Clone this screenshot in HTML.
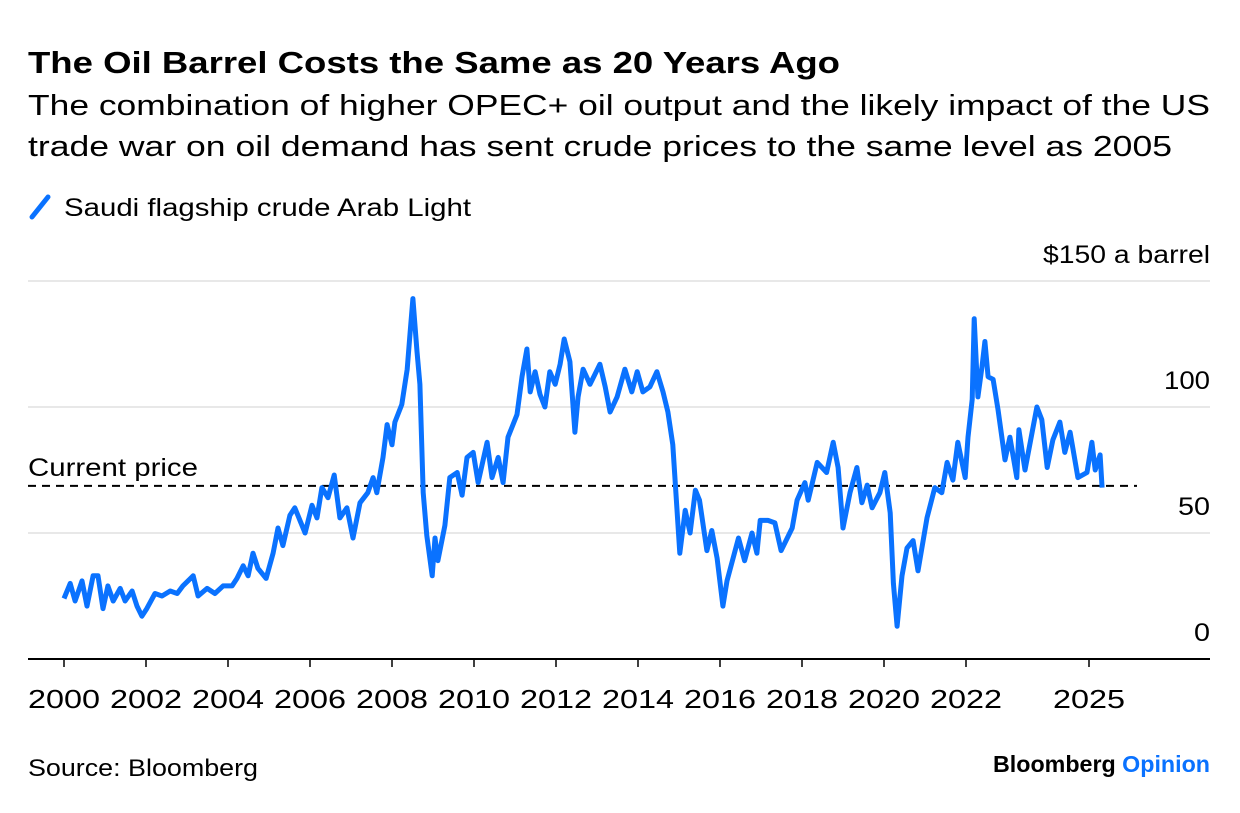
<!DOCTYPE html>
<html><head><meta charset="utf-8">
<style>
html,body{margin:0;padding:0;background:#fff;}
body{width:1240px;height:808px;overflow:hidden;font-family:"Liberation Sans",sans-serif;}
svg text{font-family:"Liberation Sans",sans-serif;}
</style></head>
<body>
<svg id="chart" width="1240" height="808" viewBox="0 0 1240 808">
  <text x="28" y="73" font-size="31" font-weight="bold" fill="#000" textLength="812" lengthAdjust="spacingAndGlyphs">The Oil Barrel Costs the Same as 20 Years Ago</text>
  <text x="28" y="115" font-size="29" fill="#000" textLength="1182" lengthAdjust="spacingAndGlyphs">The combination of higher OPEC+ oil output and the likely impact of the US</text>
  <text x="28" y="156" font-size="29" fill="#000" textLength="1144" lengthAdjust="spacingAndGlyphs">trade war on oil demand has sent crude prices to the same level as 2005</text>
  <g>
    <line x1="32" y1="217" x2="48" y2="197" stroke="#0a72ff" stroke-width="5" stroke-linecap="round"/>
    <text x="64" y="216" font-size="25" fill="#000" textLength="407" lengthAdjust="spacingAndGlyphs">Saudi flagship crude Arab Light</text>
  </g>
  <g id="grid"></g>
  <g id="xaxis"></g>
  <text x="28" y="476" font-size="25" fill="#000" textLength="170" lengthAdjust="spacingAndGlyphs">Current price</text>
  <g id="series"></g>
  <text x="28" y="776" font-size="24" fill="#000" textLength="230" lengthAdjust="spacingAndGlyphs">Source: Bloomberg</text>
  <text x="1210" y="772" font-size="23" font-weight="bold" text-anchor="end" fill="#000" textLength="217" lengthAdjust="spacingAndGlyphs">Bloomberg <tspan fill="#0a72ff">Opinion</tspan></text>
</svg>
<script>
const yTicks = [0, 50, 100, 150];
const yTickLabels = ["0", "50", "100", "$150 a barrel"];
const yTickWidths = [16, 32, 46, 167];
const xTicks = [2000,2002,2004,2006,2008,2010,2012,2014,2016,2018,2020,2022,2025];
const currentPrice = [68.7];
const dates = [
2000.0,2000.15,2000.27,2000.44,2000.56,2000.71,2000.83,2000.95,2001.07,2001.2,
2001.37,2001.49,2001.66,2001.78,2001.9,2002.02,2002.22,2002.39,2002.59,2002.76,
2002.9,2003.15,2003.27,2003.49,2003.68,2003.88,2004.1,2004.22,2004.37,2004.49,
2004.61,2004.73,2004.93,2005.1,2005.22,2005.34,2005.51,2005.63,2005.88,2006.05,
2006.17,2006.29,2006.44,2006.59,2006.73,2006.9,2007.05,2007.22,2007.41,2007.54,
2007.63,2007.78,2007.88,2008.0,2008.07,2008.24,2008.37,2008.44,2008.51,2008.61,
2008.68,2008.76,2008.85,2008.98,2009.05,2009.12,2009.29,2009.41,2009.59,2009.71,
2009.83,2009.98,2010.1,2010.32,2010.44,2010.59,2010.71,2010.83,2011.05,2011.17,
2011.29,2011.37,2011.49,2011.61,2011.73,2011.85,2011.98,2012.1,2012.2,2012.34,
2012.46,2012.54,2012.66,2012.83,2012.95,2013.07,2013.2,2013.32,2013.49,2013.68,
2013.85,2013.98,2014.12,2014.29,2014.46,2014.61,2014.73,2014.85,2015.02,2015.15,
2015.27,2015.4,2015.5,2015.68,2015.8,2015.93,2016.07,2016.17,2016.45,2016.6,
2016.78,2016.9,2016.98,2017.17,2017.34,2017.49,2017.76,2017.88,2018.07,2018.15,
2018.37,2018.6,2018.76,2018.88,2019.0,2019.17,2019.34,2019.46,2019.59,2019.71,
2019.9,2020.02,2020.15,2020.23,2020.32,2020.44,2020.56,2020.71,2020.83,2021.05,
2021.24,2021.41,2021.54,2021.68,2021.8,2021.98,2022.05,2022.15,2022.2,2022.29,
2022.39,2022.46,2022.54,2022.66,2022.78,2022.95,2023.07,2023.24,2023.29,2023.44,
2023.73,2023.85,2023.98,2024.12,2024.29,2024.41,2024.54,2024.73,2024.95,2025.07,
2025.15,2025.27,2025.32];
const prices = [
24,30,23,31,21,33,33,20,29,23,
28,23,27,21,17,20,26,25,27,26,
29,33,25,28,26,29,29,32,37,33,
42,36,32,42,52,45,57,60,50,61,
56,68,64,73,56,60,48,62,66,72,
66,80,93,85,94,101,115,129,143,122,
109,66,49,33,48,39,53,72,74,65,
80,82,70,86,72,80,70,88,97,112,
123,106,114,105,100,114,109,117,127,118,
90,104,115,109,113,117,108,98,104,115,
106,114,106,108,114,106,98,85,42,59,
50,67,63,43,51,40,21,31,48,39,
50,42,55,55,54,43,52,63,70,63,
78,74,86,76,52,66,76,62,69,60,
66,74,58,30,13,33,44,47,35,56,
68,66,78,71,86,72,88,103,135,104,
116,126,112,111,99,79,88,72,91,75,
100,95,76,87,94,82,90,72,74,86,
75,81,68];
const NS = "http://www.w3.org/2000/svg";
const x = v => 64 + (v - 2000) * 41;
const y = v => 659 - v * 2.52;
const grid = document.getElementById('grid');
yTicks.forEach((t, i) => {
  const l = document.createElementNS(NS, 'line');
  
  
  l.setAttribute('x1', 28); l.setAttribute('x2', 1210);
  l.setAttribute('y1', y(t)); l.setAttribute('y2', y(t));
  l.setAttribute('stroke', t === 0 ? '#000' : '#e8e8e8');
  l.setAttribute('stroke-width', 2);
  grid.appendChild(l);
  const tx = document.createElementNS(NS, 'text');
  
  
  tx.setAttribute('x', 1210); tx.setAttribute('y', y(t) - 18);
  tx.setAttribute('text-anchor', 'end'); tx.setAttribute('font-size', '25');
  tx.setAttribute('textLength', yTickWidths[i]);
  tx.setAttribute('lengthAdjust', 'spacingAndGlyphs');
  tx.textContent = yTickLabels[i];
  grid.appendChild(tx);
});
const xa = document.getElementById('xaxis');
xTicks.forEach(t => {
  const tk = document.createElementNS(NS, 'line');
  
  
  tk.setAttribute('x1', x(t)); tk.setAttribute('x2', x(t));
  tk.setAttribute('y1', 659); tk.setAttribute('y2', 667);
  tk.setAttribute('stroke', '#000'); tk.setAttribute('stroke-width', 1.5);
  xa.appendChild(tk);
  const tx = document.createElementNS(NS, 'text');
  
  
  tx.setAttribute('x', x(t) - 36); tx.setAttribute('y', 708);
  tx.setAttribute('font-size', '26');
  tx.setAttribute('textLength', 72);
  tx.setAttribute('lengthAdjust', 'spacingAndGlyphs');
  tx.textContent = String(t);
  xa.appendChild(tx);
});
const s = document.getElementById('series');
const dl = document.createElementNS(NS, 'line');


dl.setAttribute('x1', 28); dl.setAttribute('x2', 1137);
dl.setAttribute('y1', y(currentPrice[0])); dl.setAttribute('y2', y(currentPrice[0]));
dl.setAttribute('stroke', '#000'); dl.setAttribute('stroke-width', 2);
dl.setAttribute('stroke-dasharray', '8 6');
s.appendChild(dl);
const n = Math.min(dates.length, prices.length);
const p = document.createElementNS(NS, 'path');


p.setAttribute('d', dates.slice(0, n).map((d, i) => (i ? 'L' : 'M') + x(d).toFixed(1) + ',' + y(prices[i]).toFixed(1)).join(''));
p.setAttribute('fill', 'none'); p.setAttribute('stroke', '#0a72ff');
p.setAttribute('stroke-width', 5); p.setAttribute('stroke-linejoin', 'round');
s.appendChild(p);
</script>
</body></html>
